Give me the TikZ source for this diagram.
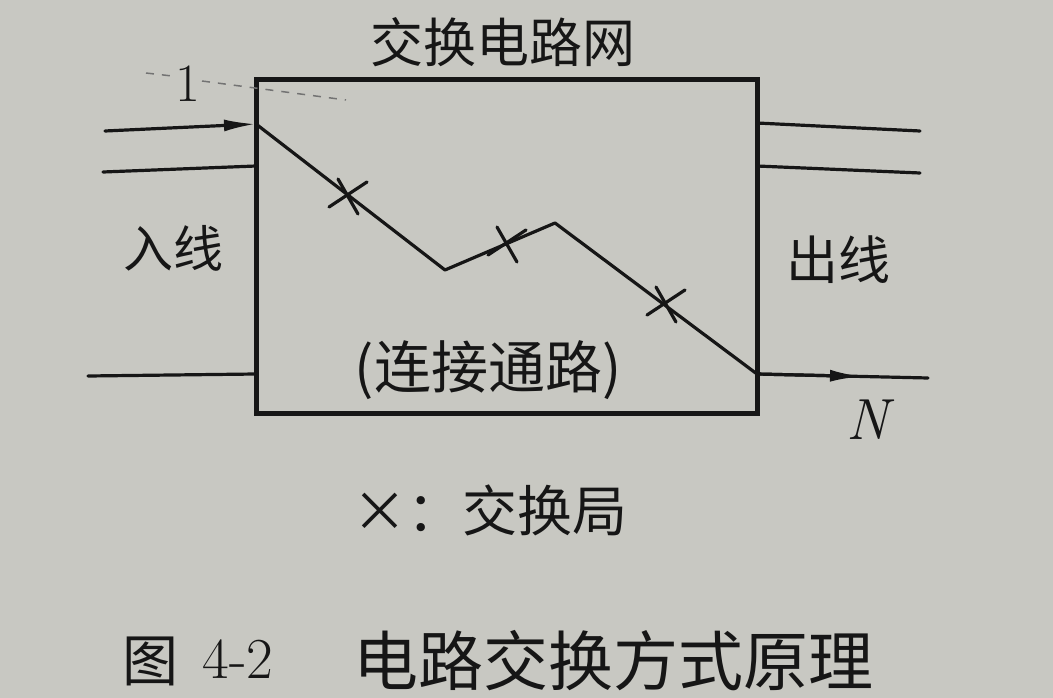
\documentclass[tikz,border=0pt]{standalone}
\usepackage{fontspec}
\newfontfamily\cjk{Noto Sans CJK SC}
\usetikzlibrary{arrows.meta}
\definecolor{paper}{RGB}{200,200,194}
\definecolor{ink}{RGB}{22,22,22}
\newcommand{\fsz}[1]{\fontsize{#1}{#1}\selectfont}
\begin{document}
\begin{tikzpicture}[x=1pt,y=-1pt,
  wire/.style={draw=ink,line width=3.2pt,line cap=round},
  frame/.style={draw=ink,line width=5pt},
  tip/.style={-{Latex[length=32pt,width=12pt]}},
  lbl/.style={inner sep=0pt,text=ink},
  xmark/.style={draw=ink,line width=3.2pt,line cap=round},
  leader/.style={draw=ink!60,line width=1.5pt,dash pattern=on 8pt off 8pt}]
\fill[paper] (0,0) rectangle (1053,698);
\useasboundingbox (0,0) rectangle (1053,698);
% box
\coordinate (tl) at (256,80);
\coordinate (br) at (757,413);
\draw[frame] (tl) rectangle (br);
% incoming lines
\coordinate (in1s) at (105,131); \coordinate (in1e) at (256,124);
\coordinate (in2s) at (103,172); \coordinate (in2e) at (256,166);
\coordinate (in3s) at (88,376);  \coordinate (in3e) at (256,374);
\draw[wire,tip] (in1s) -- (in1e);
\draw[wire] (in2s) -- (in2e);
\draw[wire] (in3s) -- (in3e);
% outgoing lines
\coordinate (o1s) at (757,123); \coordinate (o1e) at (920,131);
\coordinate (o2s) at (757,166); \coordinate (o2e) at (920,173);
\coordinate (oNs) at (757,374); \coordinate (oNm) at (862,376.5); \coordinate (oNe) at (928,378);
\draw[wire] (o1s) -- (o1e);
\draw[wire] (o2s) -- (o2e);
\draw[wire] (oNs) -- (oNe);
\draw[wire,tip] (oNs) -- (oNm);
% connection path
\coordinate (p1) at (445,270);
\coordinate (p2) at (555,223);
\draw[wire,line join=round] (in1e) -- (p1) -- (p2) -- (oNs);
% exchanges
\coordinate (x1) at (348,196);
\coordinate (x2) at (507,244);
\coordinate (x3) at (666,304);
\foreach \n in {x1,x2,x3}{
  \draw[xmark] (\n) ++(-19,11) -- ++(38,-25);
  \draw[xmark] (\n) ++(-10,-17) -- ++(20,35);
}
% leader for label 1
\draw[leader] (146,73) -- (172,76);
\draw[leader] (202,81) -- (346,100);
% labels
\node[lbl] (one) at (188,84) {\fsz{54}1};
\node[lbl] (title) at (503,42) {\cjk\fsz{53}交换电路网};
\node[lbl] (inl) at (173,248) {\cjk\fsz{50}入线};
\node[lbl] (outl) at (838,260) {\cjk\fsz{52}出线};
\node[lbl] (path) at (488,370) {\cjk\fsz{57}(连接通路)};
\node[lbl] (nn) at (868,420) {\fsz{58}\itshape N};
\node[lbl] (key) at (490,510) {\cjk\fsz{55}×：交换局};
\node[lbl] (fig) at (150,661) {\cjk\fsz{56}图};
\node[lbl] (num) at (238,659) {\fsz{58}4-2};
\node[lbl] (cap) at (613,661) {\cjk\fsz{65}电路交换方式原理};
\end{tikzpicture}
\end{document}
